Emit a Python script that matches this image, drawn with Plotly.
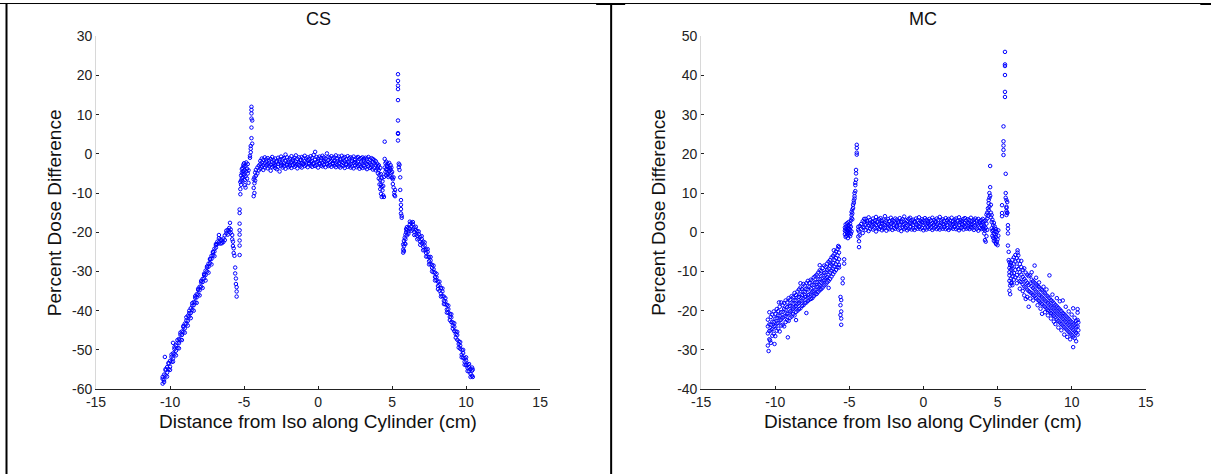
import plotly.graph_objects as go

# ---------------- data ----------------
plateau_x = [-3.9,-3.8,-3.7,-3.6,-3.5,-3.4,-3.3,-3.2,-3.1,-3.0,
             -2.9,-2.8,-2.7,-2.6,-2.5,-2.4,-2.3,-2.2,-2.1,-2.0,
             -1.9,-1.8,-1.7,-1.6,-1.5,-1.4,-1.3,-1.2,-1.1,-1.0,
             -0.9,-0.8,-0.7,-0.6,-0.5,-0.4,-0.3,-0.2,-0.1,0.0,
             0.1,0.2,0.3,0.4,0.5,0.6,0.7,0.8,0.9,1.0,
             1.1,1.2,1.3,1.4,1.5,1.6,1.7,1.8,1.9,2.0,
             2.1,2.2,2.3,2.4,2.5,2.6,2.7,2.8,2.9,3.0,
             3.1,3.2,3.3,3.4,3.5,3.6,3.7,3.8,3.9]

# --- CS panel ---
cs_plateau_y1 = [-1.8,-1.2,-1.5,-0.9,-1.4,-1.1,-1.7,-1.3,-0.8,-1.6,
                 -1.2,-1.9,-1.0,-1.4,-0.7,-1.3,-1.1,-0.2,-0.9,-1.5,
                 -1.2,-0.6,-1.4,-1.0,-0.4,-1.3,-0.9,-1.6,-0.8,-1.1,
                 -0.5,-1.2,-0.9,-1.4,-0.6,-1.0,-0.3,0.5,-0.8,-1.2,
                 -0.7,-1.1,-0.5,-0.9,-1.3,0.1,-0.8,-1.0,-0.6,-1.2,
                 -0.9,-0.4,-1.1,-0.7,-1.3,-0.5,-1.0,-0.8,-1.4,-0.6,
                 -1.1,-0.9,-1.2,-0.7,-1.5,-1.0,-0.8,-1.3,-1.1,-0.9,
                 -1.4,-1.0,-1.2,-0.8,-1.5,-1.1,-1.3,-1.6,-1.9]
cs_plateau_y2 = [-2.6,-2.2,-2.9,-2.4,-2.0,-2.7,-2.3,-2.8,-2.1,-2.5,
                 -2.9,-2.2,-2.6,-2.0,-2.4,-2.8,-2.3,-1.9,-2.5,-2.1,
                 -2.7,-2.2,-1.8,-2.4,-2.0,-2.6,-2.1,-1.7,-2.3,-2.5,
                 -1.9,-2.2,-1.6,-2.4,-2.0,-1.8,-2.3,-1.5,-2.1,-1.9,
                 -2.4,-1.7,-2.2,-1.8,-2.0,-2.5,-1.6,-2.1,-1.9,-2.3,
                 -1.8,-2.2,-2.0,-2.4,-1.7,-2.1,-2.3,-1.9,-2.5,-2.0,
                 -2.2,-2.6,-1.8,-2.3,-2.1,-2.4,-2.0,-2.7,-2.2,-2.5,
                 -1.9,-2.3,-2.6,-2.1,-2.4,-2.8,-2.2,-2.5,-2.9]
cs_plateau_y3 = [-3.8,-3.3,-4.1,-3.5,-3.0,-3.7,-3.2,-4.3,-3.4,-3.1,
                 -3.6,-3.9,-3.3,-4.5,-3.0,-3.5,-3.2,-3.8,-2.9,-3.4,
                 -3.1,-3.6,-2.8,-3.3,-3.0,-3.7,-2.9,-3.2,-3.5,-2.7,
                 -3.1,-2.8,-3.4,-2.6,-3.0,-3.3,-2.7,-3.1,-2.9,-3.5,
                 -2.6,-3.0,-3.2,-2.8,-3.4,-2.7,-3.1,-2.9,-3.3,-2.6,
                 -3.0,-3.4,-2.8,-3.2,-3.5,-2.9,-3.1,-3.6,-2.8,-3.3,
                 -3.0,-3.5,-3.2,-3.7,-2.9,-3.4,-3.1,-3.8,-3.3,-3.6,
                 -3.0,-3.5,-3.9,-3.2,-3.6,-3.4,-4.0,-3.7,-4.2]

cs_left_x = [-10.5,-10.5,-10.4,-10.4,-10.3,-10.3,-10.2,-10.2,-10.1,-10.1,-10.35,
             -10.0,-10.0,-9.9,-9.9,-9.8,-9.8,-9.8,-9.7,-9.7,-9.6,-9.6,
             -9.5,-9.5,-9.4,-9.4,-9.3,-9.3,-9.2,-9.2,-9.1,-9.1,
             -9.0,-9.0,-8.9,-8.9,-8.8,-8.8,-8.7,-8.7,-8.6,-8.6,
             -8.5,-8.5,-8.4,-8.4,-8.3,-8.3,-8.2,-8.2,-8.1,-8.1,
             -8.0,-8.0,-7.9,-7.9,-7.8,-7.8,-7.7,-7.7,-7.6,-7.6,
             -7.5,-7.5,-7.4,-7.4,-7.3,-7.3,-7.2,-7.2,-7.1,-7.1,
             -7.0,-7.0,-6.9,-6.9,-6.8,-6.8,-6.7,-6.7,-6.7,-6.6,-6.6,
             -6.5,-6.5,-6.4,-6.4,-6.3,-6.3,-6.2,-6.2,-6.1,-6.1,
             -6.0,-6.0,-5.95,-5.9,-5.9,-5.8,-5.8,-5.75,-5.75,-5.7,-5.7,
             -5.65,-5.6,-5.6,-5.55,-5.55,-5.5,-5.5,-5.5]
cs_left_y = [-58.6,-57.4,-57.6,-56.3,-56.5,-55.2,-55.8,-54.4,-54.9,-53.5,-51.8,
             -54.3,-52.8,-53.1,-51.8,-52.2,-50.9,-48.2,-51.1,-49.8,-50.2,-48.9,
             -49.5,-48.2,-48.3,-47.2,-47.4,-46.1,-46.2,-45.3,-45.4,-44.2,
             -44.5,-43.3,-43.4,-42.5,-42.6,-41.3,-41.5,-40.6,-40.6,-39.4,
             -39.8,-38.7,-38.6,-37.8,-37.9,-36.7,-36.6,-35.8,-35.9,-34.7,
             -34.8,-33.9,-33.9,-32.8,-32.7,-31.9,-31.8,-30.9,-30.9,-29.8,
             -30.0,-29.0,-28.8,-28.0,-27.9,-26.9,-26.8,-26.0,-25.9,-25.1,
             -24.9,-24.2,-23.9,-23.3,-23.0,-22.4,-22.6,-21.5,-20.7,-22.9,-21.8,
             -22.8,-22.1,-22.5,-21.6,-22.0,-20.8,-20.3,-19.6,-19.4,-20.6,
             -18.9,-19.8,-17.6,-19.3,-20.1,-20.7,-21.8,-22.4,-23.5,-24.1,-25.3,
             -26.0,-29.0,-30.5,-31.8,-33.2,-34.0,-35.1,-36.4]
cs_left_x2 = [-10.5,-10.4,-10.3,-10.2,-10.1,-10.0,-9.9,-9.8,-9.7,-9.6,
              -9.5,-9.4,-9.3,-9.2,-9.1,-9.0,-8.9,-8.8,-8.7,-8.6,
              -8.5,-8.4,-8.3,-8.2,-8.1,-8.0,-7.9,-7.8,-7.7,-7.6,
              -7.5,-7.4,-7.3,-7.2,-7.1,-7.0,-6.9]
cs_left_y2 = [-56.9,-58.2,-54.9,-56.8,-53.3,-55.1,-51.2,-53.0,-49.3,-51.4,
              -47.5,-49.6,-45.6,-47.5,-43.9,-45.6,-41.7,-43.8,-40.0,-41.9,
              -38.1,-40.0,-36.3,-38.0,-34.4,-36.1,-32.4,-34.2,-30.6,-32.3,
              -28.7,-30.3,-26.8,-28.2,-25.0,-26.1,-23.0]

cs_gap_x = [-5.3,-5.3,-5.3,-5.3,-5.3,-5.3,-5.3,-5.3,
            -5.25,-5.25,-5.25,-5.2,-5.2,-5.2,-5.15,-5.15,-5.15,-5.1,-5.1,-5.1,
            -5.05,-5.05,-5.05,-5.0,-5.0,-5.0,-4.95,-4.95,-4.95,-4.9,-4.9,-4.9,
            -4.85,-4.85,-4.8,-4.8,-4.75,-4.75,-4.7,-4.7,-4.6,-4.6,
            -4.55,-4.55,-4.55,-4.5,-4.5,-4.5,-4.5,-4.5,-4.5,-4.45,-4.45,
            -4.35,-4.35,-4.35,-4.3,-4.3,-4.3,-4.25,-4.25,-4.2,-4.2,-4.1,-4.1,-4.0,-4.0]
cs_gap_y = [-14.2,-15.1,-17.8,-19.5,-20.6,-22.1,-23.4,-25.8,
            -9.0,-10.3,-7.2,-6.8,-5.5,-7.9,-4.8,-6.2,-3.9,-3.6,-5.1,-7.0,
            -2.8,-4.4,-6.0,-3.2,-5.3,-2.4,-4.1,-6.7,-8.0,-3.0,-5.7,-8.6,
            -2.2,-4.5,-3.8,-6.3,-5.0,-2.6,-4.2,-7.4,-1.0,-0.5,
            2.0,1.3,0.4,4.0,6.7,9.0,10.3,11.2,12.0,2.6,8.5,
            -6.5,-8.7,-10.8,-6.0,-7.5,-10.0,-4.8,-6.8,-4.1,-5.6,-3.5,-5.0,-3.0,-4.2]

cs_right_x = [4.0,4.0,4.05,4.05,4.1,4.1,4.1,4.15,4.15,4.2,4.2,4.2,
              4.25,4.25,4.25,4.3,4.3,4.3,4.35,4.35,4.4,4.4,4.45,4.45,
              4.5,4.5,4.5,4.55,4.55,4.6,4.6,4.6,4.65,4.65,4.7,4.7,4.7,
              4.75,4.75,4.8,4.8,4.85,4.85,4.9,4.9,4.95,4.95,5.0,5.0,
              5.05,5.05,5.1,5.1,5.15,5.15,5.2,5.2,
              5.4,5.4,5.4,5.4,5.4,5.4,5.4,5.4,5.4,
              5.45,5.45,5.5,5.5,5.55,5.55,5.6,5.6,5.6,5.6,5.65,5.65,
              5.75,5.75,5.75,5.8,5.8,5.8,5.85,5.85,5.9,5.9,5.9,5.95,5.95,
              6.0,6.0,6.1,6.1,6.2,6.2,6.3,6.3,6.4,6.4,6.5,6.5,6.6,6.6,6.7,6.7,6.8,6.8,6.9,6.9,
              7.0,7.0,7.1,7.1,7.2,7.2,7.3,7.3,7.4,7.4,7.5,7.5,7.6,7.6,7.7,7.7,7.8,7.8,7.9,7.9,
              8.0,8.0,8.1,8.1,8.2,8.2,8.3,8.3,8.4,8.4,8.5,8.5,8.6,8.6,8.7,8.7,8.8,8.8,8.9,8.9,
              9.0,9.0,9.1,9.1,9.2,9.2,9.3,9.3,9.4,9.4,9.5,9.5,9.6,9.6,9.7,9.7,9.8,9.8,9.9,9.9,
              10.0,10.0,10.1,10.1,10.2,10.2,10.3,10.3,10.4,10.4,10.45,10.45]
cs_right_y = [-2.5,-3.8,-3.2,-5.0,-4.1,-6.3,-2.9,-5.4,-7.8,-6.7,-9.0,-3.6,
              -7.9,-10.2,-5.2,-8.4,-11.0,-6.1,-9.3,-7.0,-10.6,-8.2,-11.0,-5.9,
              3.1,-1.3,-3.5,-2.4,-4.6,-2.0,-3.9,-5.5,-3.1,-4.8,-2.6,-5.2,-4.0,
              -3.4,-5.9,-2.3,-4.4,-3.7,-5.6,-4.1,-2.9,-5.0,-3.5,-4.6,-6.1,
              -6.5,-7.7,-6.0,-8.6,-9.8,-10.5,-10.8,-9.2,
              3.4,5.3,5.1,8.5,13.7,16.5,17.4,18.6,20.3,
              -2.5,-3.4,-2.8,-4.1,-9.2,-6.0,-11.8,-13.0,-14.1,-15.2,-15.8,-16.3,
              -24.4,-25.2,-23.1,-22.2,-23.6,-24.8,-21.4,-22.9,-20.6,-21.8,-23.0,-20.0,-19.2,
              -19.5,-20.8,-18.9,-19.8,-18.0,-19.1,-17.6,-18.5,-18.0,-19.3,-18.8,-19.9,-19.4,-20.6,-19.7,-20.9,-20.5,-21.6,-21.2,-22.4,
              -21.7,-22.8,-22.4,-23.7,-23.4,-24.5,-24.4,-25.3,-25.0,-26.2,-26.3,-27.4,-27.2,-28.1,-28.3,-29.1,-29.4,-30.2,-30.3,-31.4,
              -31.5,-32.2,-32.6,-33.7,-33.5,-34.9,-34.2,-35.6,-35.1,-36.3,-36.4,-37.5,-37.6,-38.4,-38.5,-39.7,-39.6,-40.5,-40.8,-41.6,
              -41.7,-42.9,-43.0,-43.8,-44.1,-45.2,-45.3,-46.0,-46.2,-47.4,-47.8,-48.5,-48.9,-49.7,-50.0,-51.2,-50.8,-52.0,-52.1,-53.0,
              -52.7,-53.9,-53.8,-54.6,-54.4,-55.5,-54.9,-56.1,-55.3,-56.6,-55.0,-56.9]
cs_right_x2 = [6.0,6.1,6.2,6.3,6.4,6.5,6.6,6.7,6.8,6.9,
               7.0,7.1,7.2,7.3,7.4,7.5,7.6,7.7,7.8,7.9,
               8.0,8.1,8.2,8.3,8.4,8.5,8.6,8.7,8.8,8.9,
               9.0,9.1,9.2,9.3,9.4,9.5,9.6,9.7,9.8,9.9,
               10.0,10.1,10.2,10.3,10.4]
cs_right_y2 = [-18.7,-20.4,-17.3,-19.6,-17.4,-20.7,-18.6,-21.8,-19.8,-23.2,
               -21.0,-24.6,-22.6,-26.2,-24.3,-28.2,-26.3,-30.0,-28.5,-32.3,
               -30.6,-34.5,-32.6,-36.4,-34.3,-38.3,-36.8,-40.5,-38.7,-42.4,
               -40.9,-44.6,-43.2,-46.9,-45.4,-49.4,-48.0,-51.9,-50.0,-53.8,
               -51.9,-55.4,-53.6,-56.9,-54.5]

# --- MC panel ---
mc_plateau_y1 = [3.4,2.9,3.8,3.1,2.7,3.5,3.0,3.9,2.8,3.3,
                 3.6,2.9,3.2,4.1,3.0,3.4,2.8,3.7,3.1,2.9,
                 3.5,3.2,2.8,3.6,3.0,3.3,4.0,3.1,2.9,3.4,
                 3.7,3.0,3.2,2.8,3.5,3.1,3.8,2.9,3.3,3.0,
                 3.6,3.2,2.9,3.4,3.0,3.7,3.1,2.8,3.5,3.2,
                 3.9,3.0,3.3,2.9,3.6,3.1,3.4,3.0,3.7,2.8,
                 3.2,3.5,3.0,3.8,3.1,2.9,3.4,3.6,3.0,3.3,
                 3.1,3.7,2.9,3.2,3.5,3.0,3.4,2.8,3.1]
mc_plateau_y2 = [2.0,2.4,1.7,2.2,1.9,2.6,2.1,1.8,2.5,2.0,
                 1.6,2.3,2.0,1.8,2.4,2.1,1.7,2.2,2.5,1.9,
                 2.2,1.8,2.4,2.0,2.6,1.9,2.1,2.3,1.7,2.0,
                 2.4,2.2,1.9,2.5,2.0,1.8,2.3,2.1,2.6,1.9,
                 2.2,2.0,2.4,1.8,2.1,2.3,1.9,2.5,2.0,2.2,
                 1.8,2.4,2.1,2.0,2.3,1.9,2.5,2.2,1.8,2.1,
                 2.4,2.0,2.2,1.9,2.6,2.1,1.8,2.3,2.0,2.4,
                 2.2,1.9,2.1,2.5,1.8,2.2,2.0,2.3,1.9]
mc_plateau_y3 = [0.6,1.2,0.3,0.9,1.4,0.7,1.0,0.2,1.1,0.8,
                 1.3,0.5,0.9,1.2,0.4,1.0,0.8,1.3,0.6,1.1,
                 0.9,1.4,0.7,1.0,0.3,1.2,0.8,1.1,0.5,0.9,
                 1.3,0.7,1.0,0.6,1.2,0.9,1.4,0.8,1.1,0.5,
                 1.0,0.7,1.3,0.9,1.2,0.6,1.0,1.4,0.8,1.1,
                 0.7,1.2,0.9,1.3,0.8,1.1,0.6,1.0,1.2,0.9,
                 1.3,0.8,1.1,0.5,1.0,1.2,0.7,1.4,0.9,1.1,
                 0.8,1.3,1.0,0.6,1.2,0.9,0.4,1.1,0.8]

mc_slope_x = [-10.5,-10.4,-10.3,-10.2,-10.1,-10.0,-9.9,-9.8,-9.7,-9.6,
              -9.5,-9.4,-9.3,-9.2,-9.1,-9.0,-8.9,-8.8,-8.7,-8.6,
              -8.5,-8.4,-8.3,-8.2,-8.1,-8.0,-7.9,-7.8,-7.7,-7.6,
              -7.5,-7.4,-7.3,-7.2,-7.1,-7.0,-6.9,-6.8,-6.7,-6.6,
              -6.5,-6.4,-6.3,-6.2,-6.1,-6.0,-5.9,-5.8,-5.7]
mc_slope_y1 = [-22.3,-20.4,-21.6,-21.0,-20.2,-20.8,-19.6,-20.1,-19.0,-17.9,
               -18.6,-18.1,-17.4,-17.9,-16.8,-17.2,-16.3,-16.6,-15.5,-16.0,
               -15.1,-14.6,-14.1,-14.5,-13.2,-13.6,-13.0,-12.4,-12.9,-12.1,
               -12.3,-11.5,-11.2,-10.8,-10.3,-9.7,-9.9,-9.1,-8.5,-8.8,
               -8.0,-7.5,-7.1,-6.4,-6.0,-5.5,-4.9,-4.3,-3.8]
mc_slope_y2 = [-24.0,-23.5,-23.6,-22.8,-22.9,-22.0,-21.9,-21.2,-21.3,-20.4,
               -20.3,-19.6,-19.8,-19.1,-18.9,-18.8,-18.0,-18.2,-17.3,-17.4,
               -16.6,-16.5,-15.8,-16.0,-15.1,-15.2,-14.5,-14.6,-14.0,-14.3,
               -13.5,-13.4,-12.8,-12.7,-12.0,-11.9,-11.2,-11.0,-10.4,-10.2,
               -9.6,-9.3,-8.6,-8.2,-7.8,-7.1,-6.6,-5.9,-5.2]
mc_slope_y3 = [-25.8,-25.2,-25.0,-24.7,-24.1,-23.9,-23.3,-23.1,-22.5,-22.3,
               -21.8,-21.5,-21.3,-20.8,-20.7,-20.2,-19.9,-19.5,-19.1,-18.8,
               -18.3,-18.0,-17.6,-17.4,-16.9,-16.5,-16.4,-16.0,-15.9,-15.6,
               -15.2,-14.9,-14.6,-14.0,-13.8,-13.4,-12.9,-12.5,-12.2,-11.7,
               -11.4,-10.8,-10.3,-9.8,-9.3,-8.8,-8.2,-7.5,-6.9]
mc_slope_y4 = [-28.9,-27.3,-28.2,-26.4,-25.9,-26.5,-25.1,-24.6,-25.3,-23.8,
               -23.6,-24.0,-22.9,-22.4,-22.6,-21.8,-21.5,-20.9,-21.2,-20.3,
               -20.0,-19.6,-19.4,-18.8,-18.6,-18.1,-17.9,-17.5,-17.2,-17.0,
               -16.8,-16.3,-15.9,-15.7,-15.2,-14.8,-14.5,-14.1,-13.6,-13.3,
               -12.8,-12.4,-11.9,-11.3,-10.7,-10.1,-9.6,-8.9,-8.3]

mc_gap_x = [-10.45,-10.35,-10.05,-9.75,-9.15,-8.6,-8.3,-7.9,-7.0,-6.4,-6.05,-5.75,-5.7,
            -5.6,-5.6,-5.6,-5.55,-5.55,-5.55,-5.55,-5.45,-5.45,-5.35,-5.35,
            -5.3,-5.3,-5.3,-5.25,-5.25,-5.25,-5.2,-5.2,-5.2,-5.15,-5.15,-5.15,
            -5.1,-5.1,-5.1,-5.05,-5.05,-5.05,-5.0,-5.0,-5.0,-4.95,-4.95,-4.95,
            -4.9,-4.9,-4.9,-4.85,-4.85,-4.85,-4.85,-4.8,-4.8,-4.8,-4.75,-4.75,
            -4.7,-4.7,-4.65,-4.65,-4.65,-4.6,-4.6,-4.6,-4.55,-4.55,-4.55,
            -4.5,-4.5,-4.5,-4.5,-4.4,-4.4,-4.4,-4.35,-4.35,-4.35,-4.3,-4.3,
            -4.2,-4.2,-4.1,-4.1,-4.1,-4.0,-4.0,-4.0]
mc_gap_y = [-30.3,-27.6,-28.5,-17.9,-26.8,-22.4,-13.0,-20.6,-8.4,-14.2,-4.6,-3.5,-9.0,
            -16.5,-18.6,-21.1,-17.3,-20.2,-22.0,-23.6,-11.8,-13.0,-8.0,-6.9,
            1.2,-0.5,0.4,2.0,-1.2,0.8,1.5,0.1,-0.9,2.3,0.6,-0.3,
            1.0,-1.5,0.3,1.8,-0.7,2.6,0.9,-0.2,1.5,2.2,-1.0,0.5,
            1.4,-0.4,3.0,3.6,4.4,5.2,0.2,4.8,5.8,3.3,6.2,7.0,
            7.5,8.1,8.6,9.2,10.0,10.5,12.0,12.6,13.4,15.0,15.9,
            19.8,20.3,21.5,22.3,0.6,-1.1,1.4,-2.3,-3.8,0.2,1.6,-0.8,
            0.9,2.1,1.3,2.8,-0.2,2.5,1.2,3.4]

mc_right_x = [4.0,4.0,4.0,4.05,4.05,4.1,4.1,4.1,4.15,4.15,4.2,4.2,4.2,
              4.25,4.25,4.25,4.3,4.3,4.3,4.35,4.35,4.4,4.4,4.4,4.45,4.45,4.45,
              4.5,4.5,4.5,4.55,4.55,4.55,4.6,4.6,4.6,4.65,4.65,4.65,
              4.7,4.7,4.7,4.75,4.75,4.75,4.8,4.8,4.8,4.85,4.85,4.85,
              4.9,4.9,4.9,4.95,4.95,5.0,5.0,5.05,5.05,
              5.3,5.3,5.3,5.4,5.4,5.4,5.4,5.4,5.5,5.5,5.5,5.5,5.5,5.5,
              5.55,5.55,5.55,5.6,5.6,5.6,5.6,5.6,5.65,5.65,5.65,5.7,5.7,5.7,5.7,5.75,5.75,
              5.8,5.8,5.8,5.8,5.8,5.8,5.85,5.85,5.85,5.9,5.9,5.9,5.9,5.95,5.95,5.95,
              6.0,6.0,6.0,6.0,6.1,6.1,6.1,6.1,6.2,6.2,6.2,6.2,6.3,6.3,6.3,6.3,6.35,6.35]
mc_right_y = [2.5,1.2,3.4,2.0,0.8,1.5,-0.3,2.8,0.4,-2.0,-2.4,1.1,3.0,
              2.2,-1.0,4.5,5.0,3.5,0.6,6.1,4.2,7.4,5.6,8.2,10.0,8.8,6.5,
              11.5,16.9,9.3,7.0,5.0,3.8,4.4,2.6,1.0,3.2,0.3,-0.9,
              1.8,-1.4,0.6,2.4,-0.4,-2.2,0.9,-1.7,1.5,-0.6,-2.6,0.2,
              -1.2,-3.0,0.8,0.1,-2.4,-1.8,-3.3,-0.9,0.5,
              4.9,6.9,4.1,19.7,21.0,22.1,23.2,27.0,34.5,35.8,40.1,42.4,42.8,46.0,
              14.9,10.0,8.8,8.2,6.5,5.4,4.4,6.2,5.0,4.9,7.7,1.8,-0.3,0.9,-3.4,-5.0,-7.1,
              -7.6,-10.2,-12.4,-14.9,-11.0,-9.1,-8.3,-13.6,-15.8,-9.5,-11.8,-13.0,-7.9,-10.5,-12.9,-8.6,
              -9.2,-11.3,-7.0,-13.5,-8.0,-10.4,-12.1,-6.4,-7.5,-9.6,-11.5,-5.8,-6.6,-8.8,-10.9,-13.0,-4.6,-5.2]

mc_tail_x = [6.4,6.5,6.6,6.7,6.8,6.9,7.0,7.1,7.2,7.3,
             7.4,7.5,7.6,7.7,7.8,7.9,8.0,8.1,8.2,8.3,
             8.4,8.5,8.6,8.7,8.8,8.9,9.0,9.1,9.2,9.3,
             9.4,9.5,9.6,9.7,9.8,9.9,10.0,10.1,10.2,10.3]
mc_tail_y1 = [-7.2,-8.1,-8.9,-9.6,-9.2,-10.3,-10.8,-11.2,-11.0,-12.1,
              -12.5,-8.5,-13.3,-13.7,-14.0,-14.5,-14.8,-15.3,-15.6,-16.1,
              -16.4,-11.0,-17.3,-17.6,-18.1,-18.5,-18.9,-19.3,-19.7,-20.1,
              -17.4,-20.9,-21.3,-21.7,-22.1,-22.5,-22.9,-19.4,-23.7,-22.6]
mc_tail_y2 = [-9.4,-10.2,-10.8,-11.4,-11.9,-12.4,-12.9,-13.4,-13.1,-13.8,
              -14.2,-12.9,-15.1,-15.4,-15.9,-16.2,-16.6,-17.0,-17.4,-17.7,
              -18.1,-16.8,-18.9,-19.3,-19.7,-20.1,-20.5,-20.9,-21.3,-21.7,
              -20.6,-22.5,-22.9,-23.3,-23.7,-24.1,-24.5,-23.3,-25.3,-24.1]
mc_tail_y3 = [-11.8,-12.5,-12.7,-13.3,-13.8,-14.1,-14.6,-15.0,-15.3,-15.6,
              -16.0,-14.6,-16.8,-17.2,-17.5,-17.9,-18.3,-18.7,-19.0,-19.4,
              -19.8,-18.5,-20.6,-20.9,-21.3,-21.7,-22.2,-22.6,-23.0,-23.4,
              -22.1,-24.2,-24.6,-25.0,-25.4,-25.8,-26.2,-24.9,-27.0,-25.7]
mc_tail_y4 = [-5.9,-14.4,-7.3,-15.0,-16.1,-17.0,-16.5,-19.0,-16.9,-10.2,
              -17.4,-16.3,-11.6,-18.6,-12.8,-19.5,-20.8,-13.9,-20.4,-14.6,
              -21.2,-20.1,-22.0,-15.9,-22.8,-23.4,-16.8,-24.3,-17.6,-25.0,
              -23.8,-26.1,-19.0,-26.7,-20.2,-27.3,-21.0,-26.6,-21.8,-27.8]
mc_end_x = [10.1,10.4,10.4,10.4,10.4,10.4,10.45,10.45]
mc_end_y = [-29.3,-19.6,-22.4,-24.0,-20.5,-26.1,-23.0,-25.0]

x_ticks = [-15, -10, -5, 0, 5, 10, 15]
cs_y_ticks = [-60, -50, -40, -30, -20, -10, 0, 10, 20, 30]
mc_y_ticks = [-40, -30, -20, -10, 0, 10, 20, 30, 40, 50]
panel_titles = ["CS", "MC"]
x_title = "Distance from Iso along Cylinder (cm)"
y_title = "Percent Dose Difference"

# ---------------- assemble ----------------
pairs = [(cs_left_x, cs_left_y), (cs_left_x2, cs_left_y2), (cs_gap_x, cs_gap_y),
         (cs_right_x, cs_right_y), (cs_right_x2, cs_right_y2),
         (mc_gap_x, mc_gap_y), (mc_right_x, mc_right_y), (mc_end_x, mc_end_y)]
for a, b in pairs:
    assert len(a) == len(b), (len(a), len(b))
for ys in (cs_plateau_y1, cs_plateau_y2, cs_plateau_y3, mc_plateau_y1, mc_plateau_y2, mc_plateau_y3):
    assert len(ys) == len(plateau_x)
for ys in (mc_slope_y1, mc_slope_y2, mc_slope_y3, mc_slope_y4):
    assert len(ys) == len(mc_slope_x)
for ys in (mc_tail_y1, mc_tail_y2, mc_tail_y3, mc_tail_y4):
    assert len(ys) == len(mc_tail_x)

cs_x = cs_left_x + cs_left_x2 + cs_gap_x + plateau_x * 3 + cs_right_x + cs_right_x2
cs_y = (cs_left_y + cs_left_y2 + cs_gap_y + cs_plateau_y1 + cs_plateau_y2 + cs_plateau_y3
        + cs_right_y + cs_right_y2)
mc_x = mc_slope_x * 4 + mc_gap_x + plateau_x * 3 + mc_right_x + mc_tail_x * 4 + mc_end_x
mc_y = (mc_slope_y1 + mc_slope_y2 + mc_slope_y3 + mc_slope_y4 + mc_gap_y
        + mc_plateau_y1 + mc_plateau_y2 + mc_plateau_y3 + mc_right_y
        + mc_tail_y1 + mc_tail_y2 + mc_tail_y3 + mc_tail_y4 + mc_end_y)

# ---------------- layout ----------------
# The photographed area is ~18 px larger than the window in each direction and is
# shrunk to 1211x474, with the page appearing ~9-10 px in from the corner; the figure
# is pinned slightly off the corner and pre-scaled so targets land where intended.
SX, SY = 1229 / 1211, 492 / 474
SHIFT_X, SHIFT_Y = 10, 9
W, H = 1229 + 2 * SHIFT_X, 492 + 2 * SHIFT_Y
def PX(p):  # target picture x (px) -> paper fraction
    return (p * SX) / W
def PY(p):  # target picture y (px, from top) -> paper fraction
    return 1 - (p * SY) / H

FONT = "Arial, 'Liberation Sans', sans-serif"
marker = dict(symbol="circle-open", size=3.5, color="#0000ff", line=dict(width=1, color="#0000ff"))

fig = go.Figure()
fig.add_trace(go.Scatter(x=cs_x, y=cs_y, mode="markers", marker=marker,
                         xaxis="x", yaxis="y", showlegend=False, hoverinfo="skip"))
fig.add_trace(go.Scatter(x=mc_x, y=mc_y, mode="markers", marker=marker,
                         xaxis="x2", yaxis="y2", showlegend=False, hoverinfo="skip"))

def labels(vals):
    return [str(v) for v in vals]   # ASCII hyphen minus like the original

TICKFONT = dict(family=FONT, size=14, color="#222")

def xax(domain, anchor):
    return dict(domain=domain, anchor=anchor, range=[-15, 15], tickvals=x_ticks,
                ticktext=labels(x_ticks),
                ticks="inside", ticklen=3, tickcolor="#222", showline=True,
                linecolor="#222", linewidth=1, showgrid=False, zeroline=False,
                tickfont=TICKFONT)

def yax(domain, anchor, rng, tv):
    return dict(domain=domain, anchor=anchor, range=rng, tickvals=tv, ticktext=labels(tv),
                ticks="inside", ticklen=3, tickcolor="#222", showline=True,
                linecolor="#d8d8d8", linewidth=1, showgrid=False, zeroline=False,
                tickfont=TICKFONT)

ydom = [PY(388), PY(37)]
fig.update_layout(
    width=W, height=H, margin=dict(l=0, r=0, t=0, b=0), autosize=False,
    paper_bgcolor="white", plot_bgcolor="white",
    xaxis=xax([PX(96), PX(540)], "y"),
    yaxis=yax(ydom, "x", [-60, 30], cs_y_ticks),
    xaxis2=xax([PX(701), PX(1145.5)], "y2"),
    yaxis2=yax(ydom, "x2", [-40, 50], mc_y_ticks),
)

ann = []
for cx, ylx, title in ((318, 54.5, panel_titles[0]), (923, 658, panel_titles[1])):
    ann.append(dict(x=PX(cx), y=PY(20), xref="paper", yref="paper", text=title,
                    showarrow=False, font=dict(family=FONT, size=18, color="#111"),
                    xanchor="center", yanchor="middle"))
    ann.append(dict(x=PX(cx), y=PY(420), xref="paper", yref="paper", text=x_title,
                    showarrow=False, font=dict(family=FONT, size=19, color="#111"),
                    xanchor="center", yanchor="middle"))
    ann.append(dict(x=PX(ylx), y=PY(212.5), xref="paper", yref="paper", text=y_title,
                    showarrow=False, textangle=-90, font=dict(family=FONT, size=19, color="#111"),
                    xanchor="center", yanchor="middle"))
fig.update_layout(annotations=ann)

ytop = PY(4.5)
shapes = [
    dict(type="line", xref="paper", yref="paper", x0=0, x1=1, y0=ytop, y1=ytop,
         line=dict(color="black", width=1)),
    dict(type="line", xref="paper", yref="paper", x0=PX(596), x1=PX(625), y0=PY(5), y1=PY(5),
         line=dict(color="black", width=2)),
    dict(type="line", xref="paper", yref="paper", x0=PX(1200), x1=1, y0=PY(5), y1=PY(5),
         line=dict(color="black", width=2)),
    dict(type="line", xref="paper", yref="paper", x0=PX(6.5), x1=PX(6.5), y0=0, y1=ytop,
         line=dict(color="black", width=2)),
    dict(type="line", xref="paper", yref="paper", x0=PX(611), x1=PX(611), y0=0, y1=ytop,
         line=dict(color="black", width=2)),
]
fig.update_layout(shapes=shapes)

fig.write_html("out.html", config={"displayModeBar": False})

css = ("<style>html,body{margin:0 !important;padding:0 !important;border:0 !important;"
       "overflow:hidden !important;background:#fff;} body>div{margin:0 !important;padding:0 !important;}"
       ".plotly-graph-div{position:fixed !important;left:-%dpx !important;top:-%dpx !important;"
       "margin:0 !important;padding:0 !important;}</style>") % (SHIFT_X, SHIFT_Y)
with open("out.html", encoding="utf-8") as f:
    html = f.read()
if "<head>" in html:
    html = html.replace("<head>", "<head>" + css, 1)
else:
    html = css + html
with open("out.html", "w", encoding="utf-8") as f:
    f.write(html)
